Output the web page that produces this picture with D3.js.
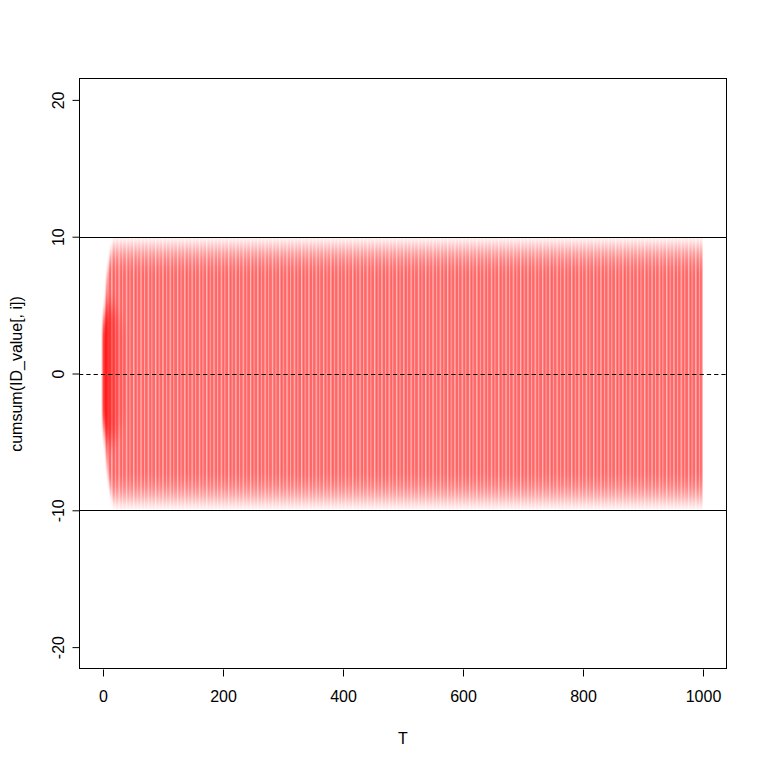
<!DOCTYPE html>
<html><head><meta charset="utf-8">
<script src="https://cdn.jsdelivr.net/npm/d3@7"></script>
<style>body{margin:0;background:#fff}svg{display:block}text{font-family:Arial,"Liberation Sans",sans-serif}</style>
</head><body><div id="chart"></div>
<script>
// ---- data ----
const xTicks = [0, 200, 400, 600, 800, 1000];
const yTicks = [-20, -10, 0, 10, 20];
const refLinesSolid = [10, -10];
const refLinesDashed = [0];
// envelope of the bundle of cumulative-sum paths (T, upper, lower)
const envT     = [0,   3,   6,   10,  14,  18,  24,  30,  1000];
const envUpper = [2.8, 4.8, 6.6, 8.1, 9.2, 9.8, 10,  10,  10];
const envLower = [-2.8,-4.8,-6.4,-7.9,-9.0,-9.6,-10, -10, -10];
// dense overlap near the origin
const coreT     = [0,   5,   10,  20,  30,  42];
const coreUpper = [3.5, 4.5, 5.0, 4.8, 4.0, 3.0];
const coreLower = [-3.5,-4.5,-5.0,-4.8,-4.0,-3.0];

const W = 768, H = 768;
const svg = d3.select("#chart").append("svg").attr("width", W).attr("height", H);
const x = d3.scaleLinear().domain([-40, 1040]).range([79, 727]);
const y = d3.scaleLinear().domain([-21.6, 21.6]).range([669, 78]);
const defs = svg.append("defs");
const fmt = (d) => String(d);

// stripe texture
const pat = defs.append("pattern").attr("id", "stripes").attr("patternUnits", "userSpaceOnUse")
  .attr("x", x(0)).attr("y", 0).attr("width", 7.3).attr("height", 10);
pat.append("rect").attr("width", 7.3).attr("height", 10).attr("fill", "rgb(255,104,104)");
pat.append("rect").attr("x", 1.0).attr("width", 1.2).attr("height", 10).attr("fill", "#fff").attr("opacity", 0.6);
pat.append("rect").attr("x", 4.6).attr("width", 1.0).attr("height", 10).attr("fill", "#fff").attr("opacity", 0.45);
pat.append("rect").attr("x", 3.0).attr("width", 0.8).attr("height", 10).attr("fill", "rgb(255,80,80)").attr("opacity", 0.5);

// vertical fade gradient
const vg = defs.append("linearGradient").attr("id", "vfade").attr("gradientUnits", "userSpaceOnUse")
  .attr("x1", 0).attr("x2", 0).attr("y1", y(10)).attr("y2", y(-10));
[[0, 0], [0.015, 0.15], [0.04, 0.45], [0.08, 0.8], [0.13, 1], [0.87, 1], [0.92, 0.8], [0.96, 0.45], [0.985, 0.15], [1, 0]]
  .forEach(([o, v]) => vg.append("stop").attr("offset", o).attr("stop-color", "#fff").attr("stop-opacity", v));

const blur = defs.append("filter").attr("id", "soft").attr("x", "-10%").attr("y", "-10%").attr("width", "120%").attr("height", "120%");
blur.append("feGaussianBlur").attr("stdDeviation", "1 4");

const area = d3.area().x((d) => x(d[0])).y0((d) => y(d[2])).y1((d) => y(d[1])).curve(d3.curveMonotoneX);
const envData = envT.map((t, i) => [t, envUpper[i], envLower[i]]);
const coreData = coreT.map((t, i) => [t, coreUpper[i], coreLower[i]]);

const mask = defs.append("mask").attr("id", "bandmask").attr("maskUnits", "userSpaceOnUse")
  .attr("x", 0).attr("y", 0).attr("width", W).attr("height", H);
mask.append("path").attr("d", area(envData)).attr("fill", "url(#vfade)").attr("filter", "url(#soft)");
// keep right end crisp
const clip = defs.append("clipPath").attr("id", "bandclip");
clip.append("rect").attr("x", x(0) - 3).attr("y", y(10) + 1).attr("width", x(1000) - x(0) + 3).attr("height", y(-10) - y(10) - 2);

svg.append("rect").attr("x", x(0) - 3).attr("y", y(10)).attr("width", x(1000) - x(0) + 3).attr("height", y(-10) - y(10))
  .attr("fill", "url(#stripes)").attr("mask", "url(#bandmask)").attr("clip-path", "url(#bandclip)");

// core dense region
const hg = defs.append("linearGradient").attr("id", "hfade").attr("gradientUnits", "userSpaceOnUse")
  .attr("x1", x(0)).attr("x2", x(42)).attr("y1", 0).attr("y2", 0);
[[0, 0.9], [0.25, 0.55], [0.6, 0.2], [1, 0]].forEach(([o, v]) =>
  hg.append("stop").attr("offset", o).attr("stop-color", "rgb(255,0,0)").attr("stop-opacity", v));
const blur2 = defs.append("filter").attr("id", "soft2").attr("x", "-20%").attr("y", "-40%").attr("width", "140%").attr("height", "180%");
blur2.append("feGaussianBlur").attr("stdDeviation", "1.2 10");
svg.append("path").attr("d", area(coreData)).attr("fill", "url(#hfade)").attr("filter", "url(#soft2)");

// reference lines
refLinesSolid.forEach((v) => svg.append("line").attr("x1", 79).attr("x2", 727).attr("y1", Math.round(y(v)) + 0.5).attr("y2", Math.round(y(v)) + 0.5)
  .attr("stroke", "#000").attr("stroke-width", 1));
refLinesDashed.forEach((v) => svg.append("line").attr("x1", 79).attr("x2", 727).attr("y1", Math.round(y(v)) + 0.5).attr("y2", Math.round(y(v)) + 0.5)
  .attr("stroke", "#000").attr("stroke-width", 1).attr("stroke-dasharray", "4.3,3"));

// box
svg.append("rect").attr("x", 79.5).attr("y", 78.5).attr("width", 647).attr("height", 590)
  .attr("fill", "none").attr("stroke", "#000").attr("stroke-width", 1);

// axes
const xa = svg.append("g").attr("transform", "translate(0,669.5)")
  .call(d3.axisBottom(x).tickValues(xTicks).tickSize(7).tickPadding(14).tickFormat(fmt));
xa.select(".domain").remove();
xa.selectAll("text").attr("font-size", 16).attr("font-family", "Arial, 'Liberation Sans', sans-serif").attr("fill", "#000");
xa.selectAll("line").attr("stroke", "#000");

const ya = svg.append("g").attr("transform", "translate(79.5,0)")
  .call(d3.axisLeft(y).tickValues(yTicks).tickSize(7).tickFormat(fmt));
ya.select(".domain").remove();
ya.selectAll("line").attr("stroke", "#000");
ya.selectAll("text").attr("font-size", 16).attr("font-family", "Arial, 'Liberation Sans', sans-serif").attr("fill", "#000")
  .attr("x", null).attr("dy", null).attr("y", null)
  .attr("text-anchor", "middle")
  .attr("transform", "translate(-16,0) rotate(-90)");

svg.append("text").attr("x", 403).attr("y", 744).attr("text-anchor", "middle").attr("font-size", 16).text("T");
svg.append("text").attr("transform", "translate(22,374) rotate(-90)").attr("text-anchor", "middle").attr("font-size", 16)
  .text("cumsum(ID_value[, i])");
</script></body></html>
